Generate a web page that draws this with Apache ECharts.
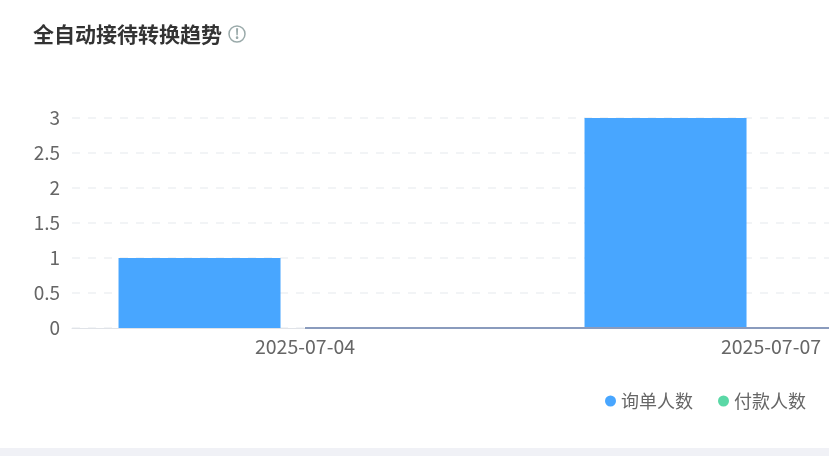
<!DOCTYPE html>
<html><head><meta charset="utf-8">
<style>html,body{margin:0;padding:0;background:#fff;overflow:hidden}#c{width:829px;height:456px}</style>
<script src="https://cdn.jsdelivr.net/npm/echarts@6/dist/echarts.min.js"></script>
</head><body><div id="c"></div>
<script>
const categories = ['2025-07-04', '2025-07-07', ''];
const inquiryValues = [1, 3, 0];
const paymentValues = [0, 0, 0];
const rateValues = [0, 0, 0];
const yTicks = [0, 0.5, 1, 1.5, 2, 2.5, 3];
const titleText = '全自动接待转换趋势';
const font = '"Noto Sans CJK SC","Noto Sans",sans-serif';
const chart = echarts.init(document.getElementById('c'), null, {renderer: 'canvas'});
chart.setOption({
  animation: false,
  title: {text: titleText, left: 33, top: 21, padding: 0,
    textStyle: {fontFamily: font, fontSize: 21, fontWeight: 'bold', color: '#333', lineHeight: 27}},
  legend: {
    left: 600, top: 387, itemWidth: 11, itemHeight: 11, itemGap: 25, icon: 'circle',
    data: ['询单人数', '付款人数'],
    textStyle: {fontFamily: font, fontSize: 18, color: '#666', padding: [0, 0, 0, 0]}
  },
  grid: {left: 72, top: 118, width: 1398, height: 210, outerBoundsMode: 'none'},
  xAxis: {
    type: 'category', data: categories,
    axisTick: {show: false},
    axisLine: {lineStyle: {color: '#e0e3e8', width: 1}},
    axisLabel: {interval: 0, fontFamily: font, fontSize: 19.5, color: '#666', margin: 9}
  },
  yAxis: {
    type: 'value', min: 0, max: 3, interval: 0.5,
    axisLine: {show: false}, axisTick: {show: false},
    axisLabel: {fontFamily: font, fontSize: 19, color: '#666', margin: 12, padding: [0, 0, 2, 0],
      formatter: v => yTicks.includes(v) ? String(v) : ''},
    splitLine: {lineStyle: {type: [8, 8], color: '#eef1f4', width: 1.5}}
  },
  series: [
    {name: '询单人数', type: 'bar', data: inquiryValues, barWidth: 162, barGap: '14.8%',
      itemStyle: {color: '#48a6ff'}},
    {name: '付款人数', type: 'bar', data: paymentValues, barWidth: 162,
      itemStyle: {color: '#5ad8a6'}},
    {name: '转化', type: 'bar', data: [], barWidth: 0.01},
    {name: '转化率', type: 'line', data: rateValues, showSymbol: false, z: 5,
      lineStyle: {color: '#8a9bbd', width: 2}, itemStyle: {color: '#8a9bbd'}}
  ],
  graphic: [
    {type: 'circle', shape: {cx: 237, cy: 34, r: 8}, style: {fill: '#fff', stroke: '#9aaaaa', lineWidth: 1.5}},
    {type: 'text', style: {x: 237, y: 34, text: '!', fill: '#9aaaaa', fontSize: 14, fontWeight: 'bold', fontFamily: font, align: 'center', verticalAlign: 'middle'}},
    {type: 'rect', shape: {x: 0, y: 448, width: 829, height: 8}, style: {fill: '#f0f1f6'}}
  ]
});
</script></body></html>
